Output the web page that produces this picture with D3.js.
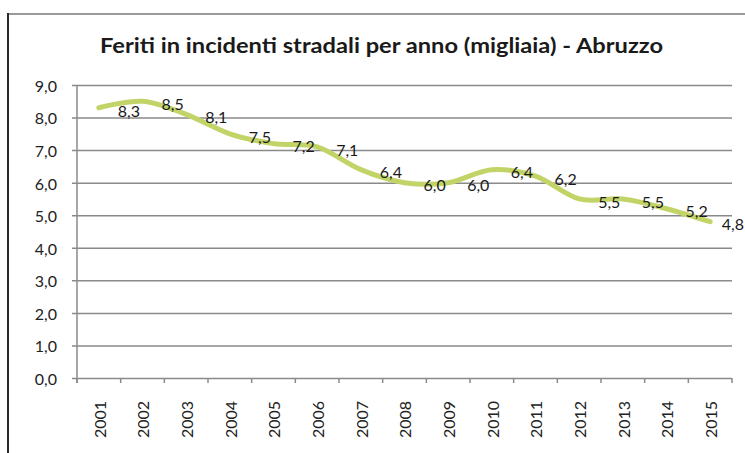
<!DOCTYPE html>
<html>
<head>
<meta charset="utf-8">
<script src="https://cdn.jsdelivr.net/npm/d3@7"></script>
<style>
  html, body { margin: 0; padding: 0; background: #fff; }
  svg { display: block; }
</style>
</head>
<body>
<svg id="chart" width="745" height="453"></svg>
<script>
// Feriti in incidenti stradali, Abruzzo (migliaia)
const years = ["2001","2002","2003","2004","2005","2006","2007","2008",
               "2009","2010","2011","2012","2013","2014","2015"];
const feriti = [8.3, 8.5, 8.1, 7.5, 7.2, 7.1, 6.4, 6.0, 6.0, 6.4, 6.2, 5.5, 5.5, 5.2, 4.8];
const yTicks = [0, 1, 2, 3, 4, 5, 6, 7, 8, 9];
const title = "Feriti in incidenti stradali per anno (migliaia)  - Abruzzo";

const W = 745;
const svg = d3.select("#chart");
const fmt = v => d3.format(".1f")(v).replace(".", ",");

const plot = { left: 77, right: 732, top: 85, bottom: 378 };

const x = d3.scaleBand().domain(years).range([plot.left, plot.right]).padding(0);
const y = d3.scaleLinear().domain([0, 9]).range([plot.bottom, plot.top]);

// outer frame (top and left edges)
svg.append("line").attr("x1", 8).attr("x2", W).attr("y1", 14).attr("y2", 14)
  .attr("stroke", "#9a9a9a").attr("stroke-width", 2);
svg.append("line").attr("x1", 8).attr("x2", 8).attr("y1", 13).attr("y2", 453)
  .attr("stroke", "#2a2a2a").attr("stroke-width", 2);

// title
svg.append("text")
  .attr("x", 100).attr("y", 53)
  .attr("textLength", 563).attr("lengthAdjust", "spacingAndGlyphs")
  .style("font-family", "Lato, 'Open Sans', sans-serif")
  .style("font-weight", "bold").style("font-size", "20px")
  .attr("fill", "#1a1a1a")
  .text(title);

// horizontal gridlines + y axis
const yAxis = d3.axisLeft(y).tickValues(yTicks).tickFormat(fmt)
  .tickSize(-(plot.right - plot.left + 5)).tickPadding(0);
const gy = svg.append("g").attr("transform", `translate(${plot.left - 5},0)`).call(yAxis);
gy.select(".domain").remove();
gy.selectAll(".tick line").attr("stroke", "#8a8a8a").attr("stroke-width", 1.5);
gy.selectAll(".tick text")
  .attr("x", -15).attr("dy", "0.4em")
  .style("font-family", "Lato, sans-serif").style("font-size", "16px")
  .attr("fill", "#222");

svg.append("line").attr("x1", plot.left).attr("x2", plot.left)
  .attr("y1", plot.top).attr("y2", plot.bottom + 5)
  .attr("stroke", "#8a8a8a").attr("stroke-width", 1.5);

// x axis: ticks at category boundaries, rotated year labels
const boundaries = years.map(d => x(d)).concat([x(years[years.length - 1]) + x.bandwidth()]);
svg.append("g").selectAll("line").data(boundaries).join("line")
  .attr("x1", d => d).attr("x2", d => d)
  .attr("y1", plot.bottom).attr("y2", plot.bottom + 5)
  .attr("stroke", "#8a8a8a").attr("stroke-width", 1.5);

svg.append("g").selectAll("text").data(years).join("text")
  .attr("transform", d => `translate(${x(d) + x.bandwidth() / 2 + 1},438) rotate(-90)`)
  .attr("text-anchor", "start").attr("dy", "0.36em")
  .style("font-family", "Lato, sans-serif").style("font-size", "16px")
  .attr("fill", "#222")
  .text(d => d);

// smoothed series line
const cx = d => x(d) + x.bandwidth() / 2;
const line = d3.line()
  .x((d, i) => cx(years[i]))
  .y(d => y(d))
  .curve(d3.curveCardinal.tension(0));
svg.append("path").datum(feriti)
  .attr("d", line)
  .attr("fill", "none")
  .attr("stroke", "#c2d468").attr("stroke-width", 5)
  .attr("stroke-linecap", "round");

// value labels to the right of each point, kept inside the canvas
svg.append("g").selectAll("text").data(feriti).join("text")
  .attr("x", (d, i) => cx(years[i]) + 19)
  .attr("y", d => y(d) + 3)
  .attr("dy", "0.36em")
  .style("font-family", "Lato, sans-serif").style("font-size", "16px")
  .attr("fill", "#1a1a1a")
  .text(d => fmt(d))
  .each(function () {
    const t = d3.select(this);
    const w = this.getComputedTextLength();
    const x0 = +t.attr("x");
    if (x0 + w > W - 1) t.attr("x", W - 1 - w);
  });
</script>
</body>
</html>
